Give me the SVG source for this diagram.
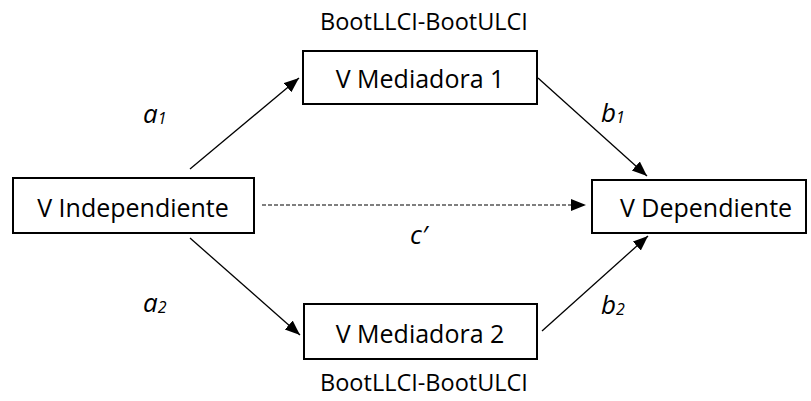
<svg xmlns="http://www.w3.org/2000/svg" width="811" height="401" viewBox="0 0 811 401">
  <style>
    .box { fill: #ffffff; stroke: #000000; stroke-width: 2; }
    .lbl { font-family: "Open Sans", "Noto Sans", "Liberation Sans", sans-serif; font-size: 25px; fill: #000000; text-anchor: middle; }
    .ci { font-family: "Open Sans", "Noto Sans", "Liberation Sans", sans-serif; font-size: 23.5px; fill: #000000; text-anchor: middle; }
    .coef { font-family: "Open Sans", "Noto Sans", "Liberation Sans", sans-serif; font-size: 26px; font-style: italic; fill: #000000; }
    .sub { font-size: 16px; }
    .edge { stroke: #000000; stroke-width: 1.3; fill: none; marker-end: url(#head); }
    .dash { stroke-dasharray: 4 2; stroke-width: 1.2; }
  </style>
  <defs>
    <marker id="head" markerUnits="userSpaceOnUse" markerWidth="16" markerHeight="14" refX="15" refY="6" orient="auto">
      <path d="M0,0 L15,6 L0,12 z" fill="#000000"/>
    </marker>
  </defs>

  <rect width="811" height="401" fill="#ffffff"/>

  <!-- connectors -->
  <g id="connectors">
    <line class="edge" x1="190" y1="169" x2="299" y2="78"/>
    <line class="edge" x1="538" y1="78" x2="647" y2="176"/>
    <line class="edge dash" x1="262" y1="205" x2="586" y2="205"/>
    <line class="edge" x1="190" y1="238" x2="300" y2="335"/>
    <line class="edge" x1="542" y1="331" x2="648" y2="236"/>
  </g>

  <!-- path coefficients -->
  <g id="coefficients">
    <text class="coef" x="143" y="123">a<tspan class="sub" dy="1">1</tspan></text>
    <text class="coef" x="601" y="122">b<tspan class="sub" dy="1">1</tspan></text>
    <text class="coef" x="410" y="244">c′</text>
    <text class="coef" x="143" y="312">a<tspan class="sub" dy="1">2</tspan></text>
    <text class="coef" x="601" y="314">b<tspan class="sub" dy="1">2</tspan></text>
  </g>

  <g id="independiente">
    <rect class="box" x="13" y="178" width="241" height="55"/>
    <text class="lbl" x="133" y="217">V Independiente</text>
  </g>

  <g id="mediadora1">
    <rect class="box" x="303" y="51" width="234" height="53"/>
    <text class="lbl" x="420" y="88">V Mediadora 1</text>
    <text class="ci" x="424" y="30">BootLLCI-BootULCI</text>
  </g>

  <g id="dependiente">
    <rect class="box" x="592" y="180" width="214" height="53"/>
    <text class="lbl" x="706" y="217">V Dependiente</text>
  </g>

  <g id="mediadora2">
    <rect class="box" x="304" y="304" width="233" height="55"/>
    <text class="lbl" x="420" y="343">V Mediadora 2</text>
    <text class="ci" x="424" y="391">BootLLCI-BootULCI</text>
  </g>
</svg>
